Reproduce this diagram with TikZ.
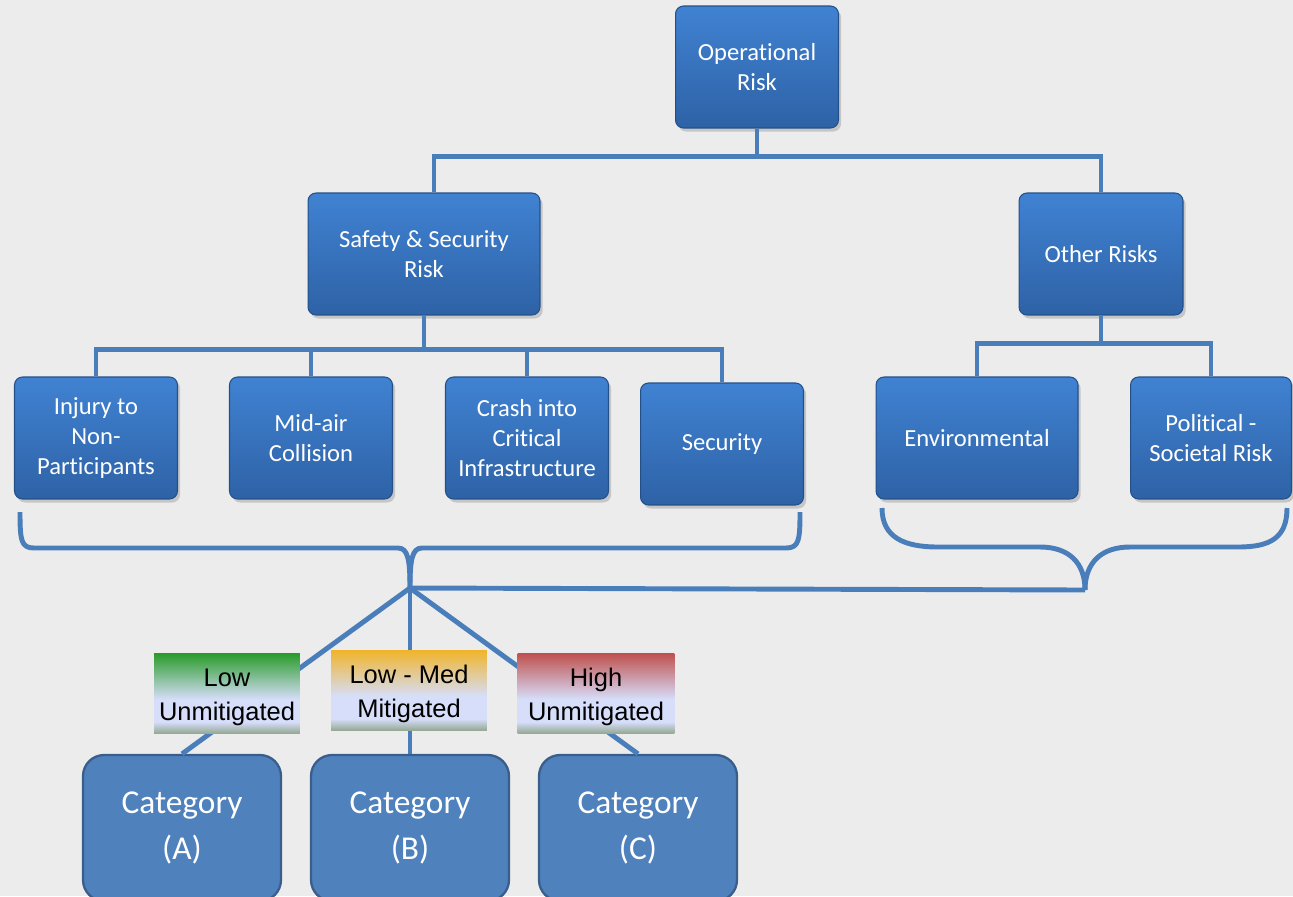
\documentclass[tikz,border=0pt]{standalone}
\usepackage{fontspec}
\setmainfont[Ligatures=NoCommon]{Carlito}
\newfontfamily\arialfont{Liberation Sans}
\usetikzlibrary{positioning,shadows,calc}

\definecolor{bgcol}{RGB}{236,236,236}
\definecolor{linkblue}{RGB}{74,126,187}
\definecolor{boxtop}{RGB}{64,130,210}
\definecolor{boxbot}{RGB}{46,98,166}
\definecolor{boxedge}{RGB}{36,80,138}
\definecolor{catfill}{RGB}{79,129,189}
\definecolor{catedge}{RGB}{58,94,140}
\definecolor{lowtop}{RGB}{40,155,40}
\definecolor{medtop}{RGB}{240,180,42}
\definecolor{hightop}{RGB}{192,80,77}
\definecolor{lavender}{RGB}{214,222,250}
\definecolor{sagebot}{RGB}{150,170,150}

\pgfdeclareverticalshading{lowshade}{100bp}{color(0bp)=(sagebot); color(25bp)=(sagebot); color(32bp)=(lavender); color(46bp)=(lavender); color(75bp)=(lowtop); color(100bp)=(lowtop)}
\pgfdeclareverticalshading{medshade}{100bp}{color(0bp)=(sagebot); color(25bp)=(sagebot); color(32bp)=(lavender); color(46bp)=(lavender); color(75bp)=(medtop); color(100bp)=(medtop)}
\pgfdeclareverticalshading{highshade}{100bp}{color(0bp)=(sagebot); color(25bp)=(sagebot); color(32bp)=(lavender); color(46bp)=(lavender); color(75bp)=(hightop); color(100bp)=(hightop)}

\begin{document}
\begin{tikzpicture}[
    x=0.02cm, y=-0.02cm, % one unit = one pixel of the layout
    riskbox/.style={rectangle, rounded corners=0.16cm, draw=boxedge, line width=0.6pt,
        top color=boxtop, bottom color=boxbot, text=white, align=center,
        minimum width=3.26cm, minimum height=2.44cm,
        font=\fontsize{14}{17}\selectfont,
        drop shadow={shadow xshift=1.5pt, shadow yshift=-2pt, opacity=0.35}},
    catbox/.style={rectangle, rounded corners=0.42cm, draw=catedge, line width=1.3pt,
        fill=catfill, text=white, align=center, minimum width=3.96cm, minimum height=2.92cm,
        font=\fontsize{19}{26}\selectfont},
    levelbox/.style={rectangle, inner sep=0pt, align=center, minimum height=1.6cm,
        font=\arialfont\fontsize{14.5}{19.5}\selectfont},
    link/.style={draw=linkblue, line width=2.8pt}
]
    \useasboundingbox (0,0) rectangle (1293,896);
    \fill[bgcol] (0,0) rectangle (1293,896);
    \clip (0,0) rectangle (1293,896);

    % Risk tree
    \node[riskbox] (op) at (757,67) {Operational\\Risk};
    \node[riskbox, minimum width=4.64cm] (safe) at (424,254) {Safety \& Security\\Risk};
    \node[riskbox, minimum width=3.28cm] (other) at (1101,254) {Other Risks};
    \node[riskbox] (injury) at (96,438) {Injury to\\Non-\\Participants};
    \node[riskbox] (midair) at (311,438) {Mid-air\\Collision};
    \node[riskbox] (crash) at (527,438) {Crash into\\Critical\\Infrastructure};
    \node[riskbox] (secur) at (722,444) {Security};
    \node[riskbox, minimum width=4.04cm] (env) at (977,438) {Environmental};
    \node[riskbox, minimum width=3.22cm] (polit) at (1211,438) {Political -\\Societal Risk};

    % Categories
    \node[catbox] (catA) at (182,828) {Category\\(A)};
    \node[catbox] (catB) at (410,828) {Category\\(B)};
    \node[catbox] (catC) at (638,828) {Category\\(C)};

    % Tree connections
    \draw[link] (op.south) -- ++(0,28) -| ([xshift=0.2cm]safe.north);
    \draw[link] (op.south) ++(0,28) -| (other.north);
    \draw[link] (safe.south) -- ++(0,34) -| (injury.north);
    \draw[link] (safe.south) ++(0,34) -| (midair.north);
    \draw[link] (safe.south) ++(0,34) -| (crash.north);
    \draw[link] (safe.south) ++(0,34) -| (secur.north);
    \draw[link] (other.south) -- ++(0,28) -| (env.north);
    \draw[link] (other.south) ++(0,28) -| (polit.north);

    % Braces
    \coordinate (tipL) at (410,588);
    \coordinate (tipR) at (1085,590);
    \draw[link] (20,512) .. controls (20,540) and (21,548) .. (34,548) -- (398,548)
        .. controls (408,548) and (410,560) .. (tipL);
    \draw[link] (tipL) .. controls (410,560) and (412,548) .. (422,548) -- (786,548)
        .. controls (799,548) and (800,540) .. (800,512);
    \draw[link] (882,508) .. controls (882,538) and (905,547) .. (938,547) -- (1040,547)
        .. controls (1068,547) and (1085,562) .. (tipR);
    \draw[link] (tipR) .. controls (1085,562) and (1102,547) .. (1130,547) -- (1238,547)
        .. controls (1270,547) and (1287,538) .. (1287,508);

    % Fan to categories
    \draw[link] (tipL) -- (tipR);
    \draw[link] (tipL) -- (catA.north);
    \draw[link] (tipL) -- (catB.north);
    \draw[link] (tipL) -- (catC.north);

    % Risk levels
    \node[levelbox, shading=lowshade, minimum width=2.92cm] (low) at (227,693) {\rule{0pt}{15pt}Low\\Unmitigated};
    \node[levelbox, shading=medshade, minimum width=3.12cm] (med) at (409,690) {\rule{0pt}{15pt}Low - Med\\Mitigated};
    \node[levelbox, shading=highshade, minimum width=3.14cm] (high) at (596,693) {\rule{0pt}{15pt}High\\Unmitigated};
\end{tikzpicture}
\end{document}
